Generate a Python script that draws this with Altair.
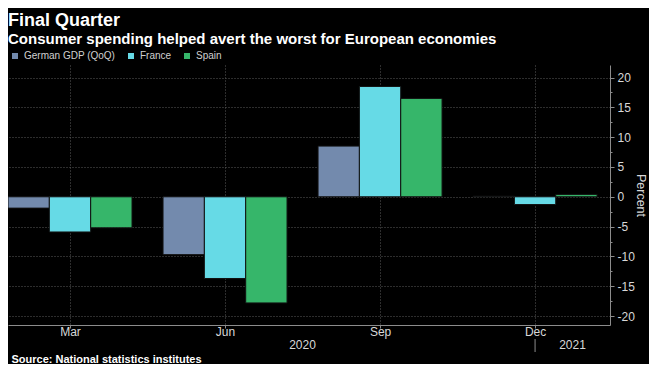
import altair as alt
import pandas as pd

# ---- data ----
quarters = ["Mar", "Jun", "Sep", "Dec"]
months = [3, 6, 9, 12]
series = ["German GDP (QoQ)", "France", "Spain"]
german = [-1.9, -9.7, 8.5, 0.1]
france = [-5.9, -13.7, 18.5, -1.3]
spain = [-5.2, -17.8, 16.5, 0.4]
years = ["2020", "2021"]

colors = ["#738AAD", "#66DAE6", "#36B66A"]

rows = []
for si, (name, vals) in enumerate(zip(series, [german, france, spain])):
    for q, m, v in zip(quarters, months, vals):
        rows.append({"series": name, "idx": si, "quarter": q, "month": m, "value": v})
df = pd.DataFrame(rows)

X_MIN, X_MAX = 1.8, 13.45
W, H = 602, 260
FONT = "Liberation Sans"

year_df = pd.DataFrame({
    "year": years,
    "pos": [(months[0] + months[-1]) / 2, (months[-1] + X_MAX) / 2],
})
sep_df = pd.DataFrame({"month": [months[-1]]})

xscale = alt.Scale(domain=[X_MIN, X_MAX], nice=False, zero=False)
yscale = alt.Scale(domain=[-21.5, 22.1], nice=False, zero=False)

minor_vals = [v / 2 for v in range(-40, 41, 5)]
month_list = ",".join(str(m) for m in months)
name_list = ",".join(f"'{q}'" for q in quarters)

x_axis = alt.Axis(
    values=months,
    labelExpr=f"[{name_list}][indexof([{month_list}], datum.value)]",
    grid=True, gridDash=[1, 2], gridColor="#5a5a5a", gridWidth=1,
    domainColor="#8c8c8c", tickColor="#8c8c8c", tickSize=3,
    labelColor="#d8d8d8", labelFontSize=12, labelPadding=-2, labelFont=FONT,
    title="Source: National statistics institutes",
    titleX=3, titleY=34, titleAlign="left", titleBaseline="middle",
    titleFontSize=11, titleFontWeight="bold", titleColor="#ffffff", titleFont=FONT,
)

y_axis = alt.Axis(
    orient="right", values=minor_vals,
    labelExpr="datum.value % 5 === 0 ? toString(datum.value) : ''",
    grid=True, gridDash=[1, 2], gridColor="#5a5a5a",
    gridOpacity={"condition": {"test": "datum.value % 5 === 0", "value": 1}, "value": 0},
    tickSize={"condition": {"test": "datum.value % 5 === 0", "value": 4}, "value": 2},
    domainColor="#8c8c8c", tickColor="#8c8c8c",
    labelColor="#d8d8d8", labelFontSize=12, labelPadding=3, labelFont=FONT,
    labelOverlap=False,
    title="Percent", titleColor="#d8d8d8", titleFontSize=12.5, titleFontWeight="normal",
    titlePadding=-1, titleFont=FONT,
)

bars = alt.Chart(df).transform_calculate(
    x0="datum.month + (datum.idx - 1.5) * 0.8",
    x1="datum.month + (datum.idx - 0.5) * 0.8",
).mark_bar(stroke="#111111", strokeWidth=1).encode(
    x=alt.X("x0:Q", scale=xscale, axis=x_axis),
    x2="x1:Q",
    y=alt.Y("value:Q", scale=yscale, axis=y_axis),
    y2=alt.datum(0),
    color=alt.Color(
        "series:N",
        scale=alt.Scale(domain=series, range=colors),
        legend=alt.Legend(
            title=None, orient="none", legendX=2, legendY=-14, direction="horizontal",
            symbolType="square", symbolSize=36, symbolStrokeWidth=0,
            labelColor="#d0d0d0", labelFontSize=10, labelFont=FONT,
            labelOffset=4, columnPadding=10,
        ),
    ),
)

year_text = alt.Chart(year_df).mark_text(
    color="#d8d8d8", fontSize=12, font=FONT, baseline="middle"
).encode(
    x=alt.X("pos:Q", scale=xscale),
    y=alt.value(H + 20),
    text="year:N",
)

sep = alt.Chart(sep_df).mark_rule(color="#8c8c8c", strokeWidth=1).encode(
    x=alt.X("month:Q", scale=xscale),
    y=alt.value(H + 14),
    y2=alt.value(H + 27),
)

chart = alt.layer(bars, year_text, sep).properties(
    width=W, height=H,
    background="#000000",
    autosize=alt.AutoSizeParams(type="none"),
    padding={"left": 0, "top": 57, "right": 39, "bottom": 39},
    title=alt.TitleParams(
        text="Final Quarter",
        subtitle="Consumer spending helped avert the worst for European economies",
        anchor="start", frame="group", font=FONT, fontSize=18, fontWeight="bold",
        color="#ffffff", subtitleFont=FONT, subtitleFontSize=15,
        subtitleFontWeight="bold", subtitleColor="#ffffff", subtitlePadding=1.5,
        offset=4.5,
    ),
).configure_view(stroke=None)

chart.save("out.html", embed_options={"renderer": "svg", "actions": False})
